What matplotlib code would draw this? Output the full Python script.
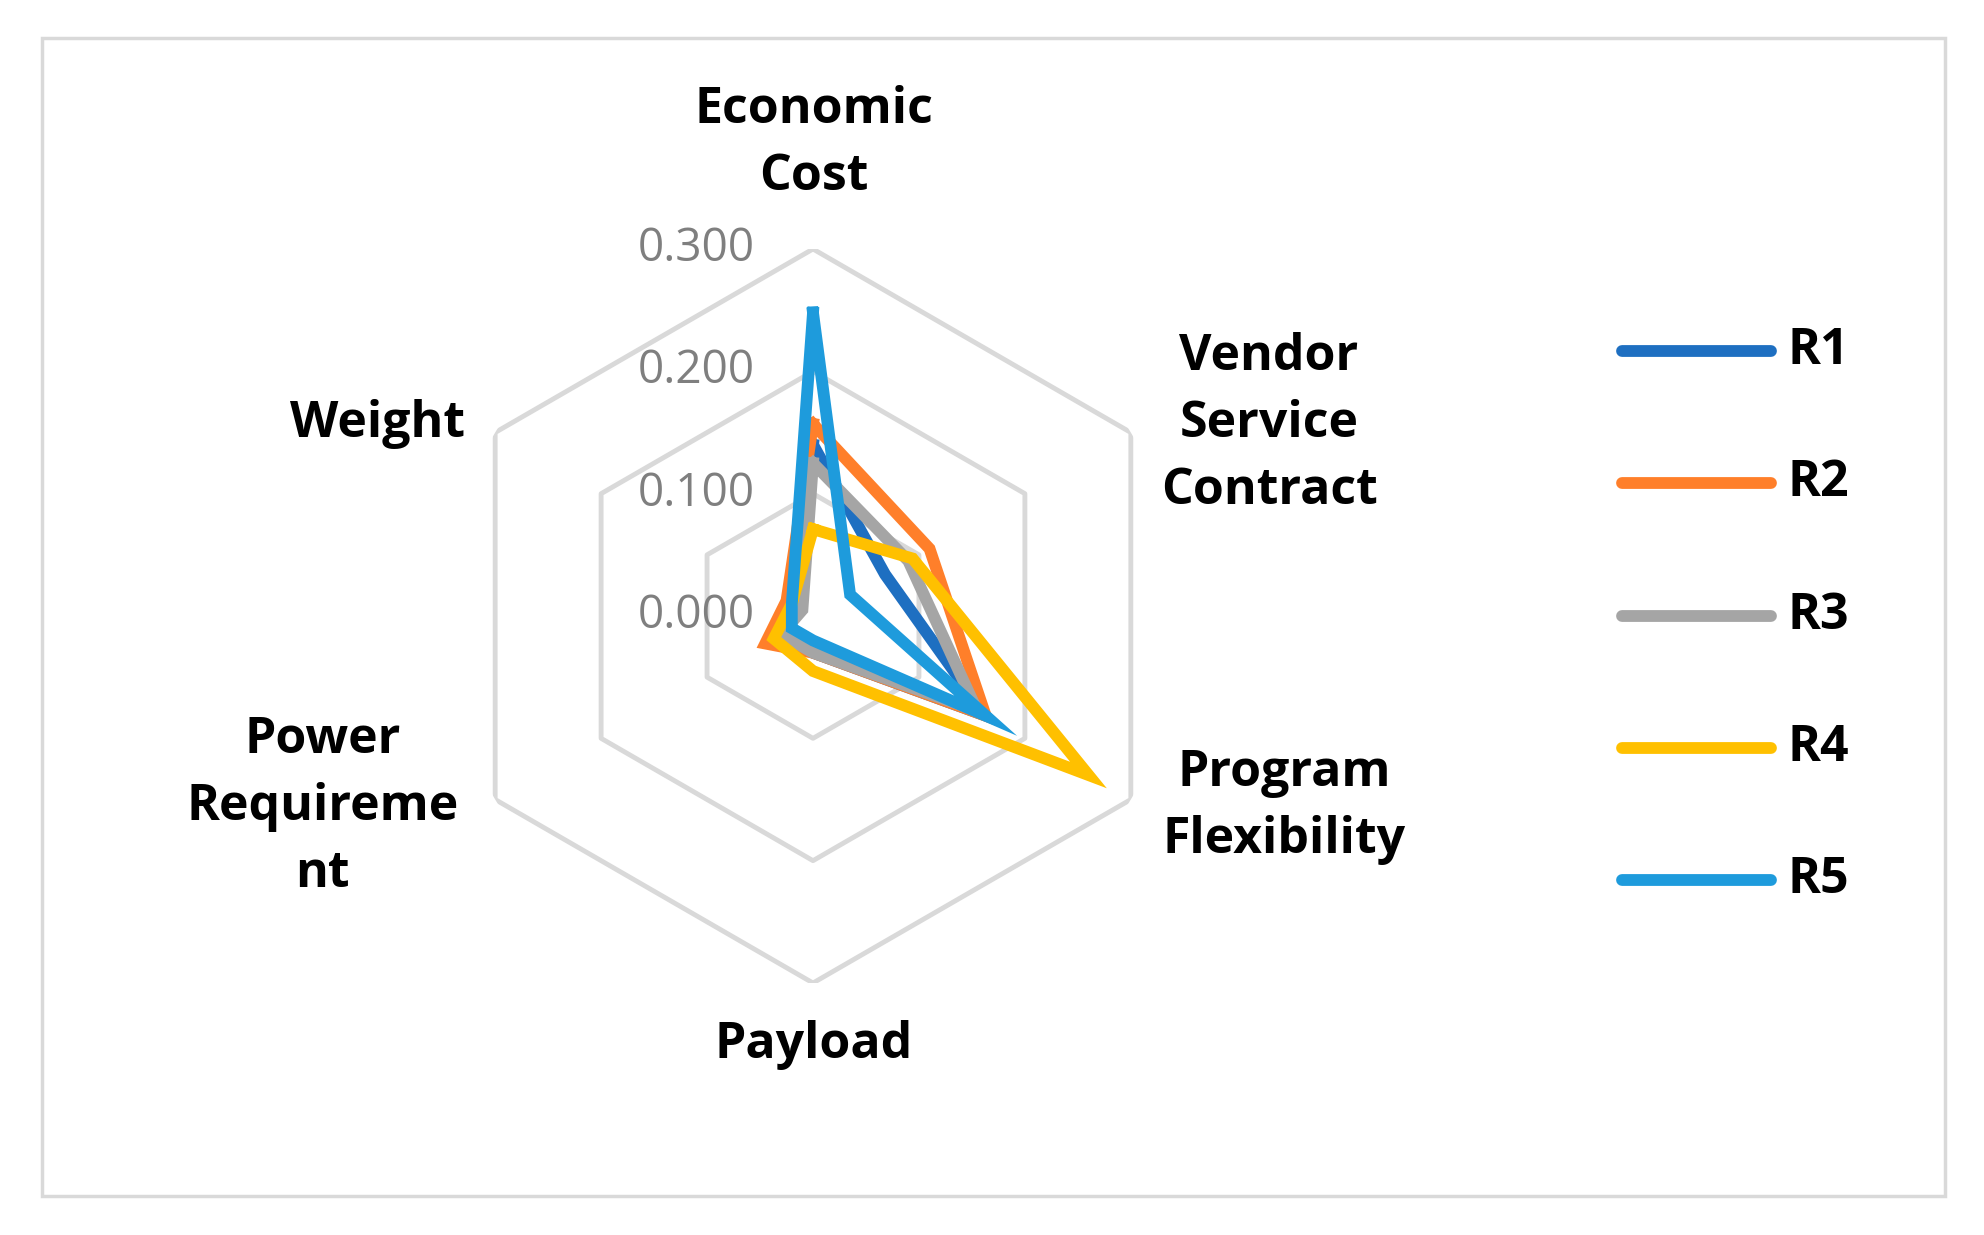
import numpy as np
import matplotlib
matplotlib.use("Agg")
import matplotlib.pyplot as plt
from matplotlib.lines import Line2D
from matplotlib.patches import Rectangle

plt.rcParams["font.family"] = ["Open Sans", "DejaVu Sans"]

categories = ["Economic\nCost", "Vendor\nService\nContract", "Program\nFlexibility",
              "Payload", "Power\nRequireme\nnt", "Weight"]
series_names = ["R1", "R2", "R3", "R4", "R5"]
r1 = [0.140, 0.068, 0.163, 0.030, 0.030, 0.020]
r2 = [0.157, 0.110, 0.163, 0.030, 0.045, 0.025]
r3 = [0.125, 0.090, 0.155, 0.030, 0.030, 0.010]
r4 = [0.071, 0.094, 0.260, 0.045, 0.037, 0.020]
r5 = [0.248, 0.035, 0.163, 0.020, 0.020, 0.020]
ticks = [0.0, 0.1, 0.2, 0.3]
tick_labels = ["0.000", "0.100", "0.200", "0.300"]

COLORS = ["#1E6FC1", "#FF7F2A", "#A5A5A5", "#FFC000", "#1E9BDC"]
GRID = "#D9D9D9"

W, H = 1984, 1235
fig = plt.figure(figsize=(W / 100, H / 100), dpi=100)
fig.add_artist(Rectangle((33 / 1568, 1 - 944 / 975), 1504 / 1568, 914 / 975,
                         transform=fig.transFigure, fill=False,
                         edgecolor=GRID, linewidth=2.5))

cx, cy, rad = 813, 616, 367
ax = fig.add_axes([(cx - rad) / W, (H - cy - rad) / H, 2 * rad / W, 2 * rad / H],
                  projection="polar")
ax.set_theta_zero_location("N")
ax.set_theta_direction(-1)
ax.set_ylim(0, 0.3)
ax.grid(False)
ax.spines["polar"].set_visible(False)
ax.set_xticks([])
ax.set_yticks([])
ax.patch.set_alpha(0)

angles = np.linspace(0, 2 * np.pi, len(categories), endpoint=False)
closed = np.append(angles, angles[0])

for t in ticks[1:]:
    ax.plot(closed, [t] * len(closed), color=GRID, linewidth=3.5, zorder=1)

for vals, c in zip([r1, r2, r3, r4, r5], COLORS):
    ax.plot(closed, vals + vals[:1], color=c, linewidth=8.5,
            solid_joinstyle="miter", zorder=3)

for t, lab in zip(ticks, tick_labels):
    ax.annotate(lab, (0, t), xytext=(-42, 0), textcoords="offset points",
                ha="right", va="center", fontsize=33, color="#7F7F7F", zorder=2)

label_pos = [(643, 113), (1003, 335), (1015, 637), (643, 825), (255, 637), (298, 335)]
for lab, (x, y) in zip(categories, label_pos):
    fig.text(x / 1568, 1 - y / 975, lab, ha="center", va="center",
             fontsize=36, fontweight="bold", linespacing=1.45)

for i, (name, c) in enumerate(zip(series_names, COLORS)):
    y = 1 - (277 + i * 104.5) / 975
    fig.add_artist(Line2D([1282 / 1568, 1400 / 1568], [y, y], color=c,
                          linewidth=8.5, solid_capstyle="round",
                          transform=fig.transFigure))
    fig.text(1413 / 1568, y, name, ha="left", va="center",
             fontsize=36, fontweight="bold")

fig.savefig("out.png", dpi=100)
